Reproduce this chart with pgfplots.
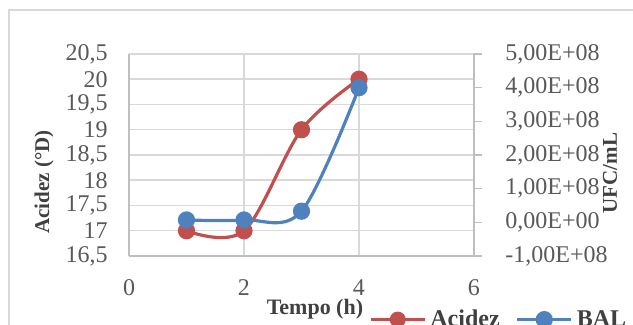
\documentclass[border=0pt]{standalone}
\usepackage{pgfplots}
\pgfplotsset{compat=1.18}
\usepackage{fontspec}
\setmainfont{Liberation Serif}
\definecolor{redA}{HTML}{C0504D}
\definecolor{blueB}{HTML}{4F81BD}
\definecolor{gridc}{HTML}{D9D9D9}
\definecolor{axc}{HTML}{BFBFBF}
\definecolor{txt}{HTML}{595959}
\definecolor{ttl}{HTML}{404040}
\begin{document}
\begin{tikzpicture}
\useasboundingbox (0pt,0pt) rectangle (316.5pt,162.5pt);
\clip (0pt,0pt) rectangle (316.5pt,162.5pt);
\draw[gridc, line width=0.75pt] (4.5pt,-10pt) -- (4.5pt,157.5pt) -- (330pt,157.5pt);
\begin{axis}[
  at={(64.5pt,34.5pt)}, anchor=south west,
  scale only axis, width=172.5pt, height=101pt,
  xmin=0, xmax=6, ymin=16.5, ymax=20.5,
  xtick={0,2,4,6}, ytick={16.5,17,17.5,18,18.5,19,19.5,20,20.5},
  yticklabels={{16,5},{17},{17,5},{18},{18,5},{19},{19,5},{20},{20,5}},
  axis x line*=bottom, axis y line*=left,
  axis line style={axc, line width=0.75pt, -},
  grid=major, major grid style={gridc, line width=0.75pt},
  major tick length=0pt,
  /pgf/number format/assume math mode=true,
  ticklabel style={font=\fontsize{12}{14}\selectfont, text=txt},
  yticklabel style={inner sep=0pt, anchor=east, xshift=-10.5pt},
  xticklabel style={inner sep=0pt, anchor=north, yshift=-11.5pt},
  xlabel={Tempo (h)},
  xlabel style={at={(axis description cs:0.539,-0.265)}, anchor=center, font=\bfseries\fontsize{11}{13}\selectfont, text=ttl},
  ylabel={Acidez (°D)},
  ylabel style={at={(axis description cs:-0.246,0.366)}, anchor=center, rotate=0, font=\bfseries\fontsize{10.5}{12}\selectfont, text=ttl},
]
\addplot[redA, line width=1.6pt, smooth, tension=0.55, mark=*, mark size=3.5pt, mark options={fill=redA, draw=redA}]
  coordinates {(1,17) (2,17) (3,19) (4,20)};
\end{axis}
\begin{axis}[
  at={(64.5pt,34.5pt)}, anchor=south west,
  scale only axis, width=172.5pt, height=101pt,
  xmin=0, xmax=6, ymin=-1e8, ymax=5e8,
  axis x line=none, axis y line*=right,
  axis line style={axc, line width=0.75pt, -},
  ytick={-1e8,0,1e8,2e8,3e8,4e8,5e8},
  yticklabels={{-1,00E+08},{0,00E+00},{1,00E+08},{2,00E+08},{3,00E+08},{4,00E+08},{5,00E+08}},
  scaled y ticks=false,
  tick align=outside, major tick length=4pt, tick style={axc, line width=0.75pt},
  /pgf/number format/assume math mode=true,
  yticklabel style={font=\fontsize{12}{14}\selectfont, text=txt, inner sep=0pt, anchor=west, xshift=11.5pt},
  ylabel={UFC/mL},
  ylabel style={at={(axis description cs:1.394,0.41)}, anchor=center, rotate=0, font=\bfseries\fontsize{10.5}{12}\selectfont, text=ttl},
  legend columns=2,
  legend style={at={(axis description cs:0.695,-0.315)}, anchor=west, draw=none, fill=none, inner sep=0pt,
    font=\bfseries\fontsize{12}{14}\selectfont, text=ttl,
    /tikz/every even column/.append style={column sep=6pt}},
  legend cell align=left,
  legend image code/.code={
    \draw[#1, mark repeat=2, mark phase=2] plot coordinates {(0pt,0pt) (13.5pt,0pt) (27pt,0pt)};},
]
\addlegendimage{redA, line width=1.6pt, mark=*, mark size=3.2pt, mark options={fill=redA, draw=redA}}
\addlegendentry{Acidez}
\addplot[blueB, line width=1.6pt, smooth, tension=0.55, mark=*, mark size=3.5pt, mark options={fill=blueB, draw=blueB}]
  coordinates {(1,7e6) (2,7e6) (3,3.3e7) (4,4.0e8)};
\addlegendentry{BAL}
\end{axis}
\end{tikzpicture}
\end{document}
